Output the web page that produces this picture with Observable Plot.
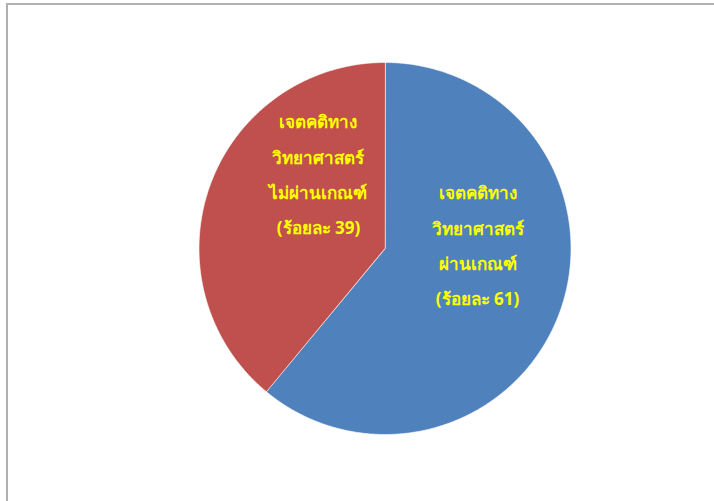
<!DOCTYPE html>
<html>
<head>
<meta charset="utf-8">
<script src="https://cdn.jsdelivr.net/npm/d3@7"></script>
<script src="https://cdn.jsdelivr.net/npm/@observablehq/plot@0.6"></script>
<style>
  html, body { margin: 0; padding: 0; background: #fff; }
  #wrap { position: relative; width: 714px; height: 501px; overflow: hidden; }
  #frame { position: absolute; left: 6px; top: 3px; width: 720px; height: 510px;
           border-top: 2px solid #b0b0b0; border-left: 2px solid #b0b0b0; box-sizing: border-box; }
  #chart { position: absolute; left: 0; top: 0; }
</style>
</head>
<body>
<div id="wrap"><div id="frame"></div><div id="chart"></div></div>
<script>
// Data
const categories = ["เจตคติทางวิทยาศาสตร์ผ่านเกณฑ์", "เจตคติทางวิทยาศาสตร์ไม่ผ่านเกณฑ์"];
const values = [61, 39];
const labels = [
  "เจตคติทาง\nวิทยาศาสตร์\nผ่านเกณฑ์\n(ร้อยละ 61)",
  "เจตคติทาง\nวิทยาศาสตร์\nไม่ผ่านเกณฑ์\n(ร้อยละ 39)"
];
const colors = ["#4F81BD", "#C0504D"];

// Pie geometry (unit circle) from data
const arcs = d3.pie().sort(null).value(d => d.value)(
  categories.map((c, i) => ({category: c, value: values[i], label: labels[i]}))
);
const outline = [];
for (const a of arcs) {
  outline.push({category: a.data.category, x: 0, y: 0});
  const n = Math.max(2, Math.ceil((a.endAngle - a.startAngle) / (Math.PI / 360)));
  for (let k = 0; k <= n; k++) {
    const t = a.startAngle + (a.endAngle - a.startAngle) * k / n;
    outline.push({category: a.data.category, x: Math.sin(t), y: Math.cos(t)});
  }
}
const centroids = arcs.map(a => {
  const m = (a.startAngle + a.endAngle) / 2;
  return {category: a.data.category, label: a.data.label, x: 0.5 * Math.sin(m), y: 0.5 * Math.cos(m)};
});

const cx = 384.5, cy = 248, r = 186;
const textStyle = {
  fill: "#FFFF00", fontSize: 17, fontWeight: "bold", lineHeight: 2.08,
  fontFamily: "Tahoma, 'Noto Sans', 'DejaVu Sans', sans-serif", textAnchor: "middle"
};

const chart = Plot.plot({
  width: 714, height: 501,
  margin: 0,
  x: {domain: [-1, 1], range: [cx - r, cx + r], axis: null},
  y: {domain: [-1, 1], range: [cy + r, cy - r], axis: null},
  color: {domain: categories, range: colors},
  marks: [
    Plot.line(outline, {x: "x", y: "y", z: "category", fill: "category", stroke: "white",
      strokeWidth: 1, strokeOpacity: 0.6, curve: "linear-closed"}),
    Plot.text(centroids.filter(d => d.category === categories[0]),
      {x: "x", y: "y", text: "label", dx: 5, dy: -39, ...textStyle}),
    Plot.text(centroids.filter(d => d.category === categories[1]),
      {x: "x", y: "y", text: "label", dx: 21, dy: -47, ...textStyle})
  ]
});
document.getElementById("chart").appendChild(chart);
</script>
</body>
</html>
